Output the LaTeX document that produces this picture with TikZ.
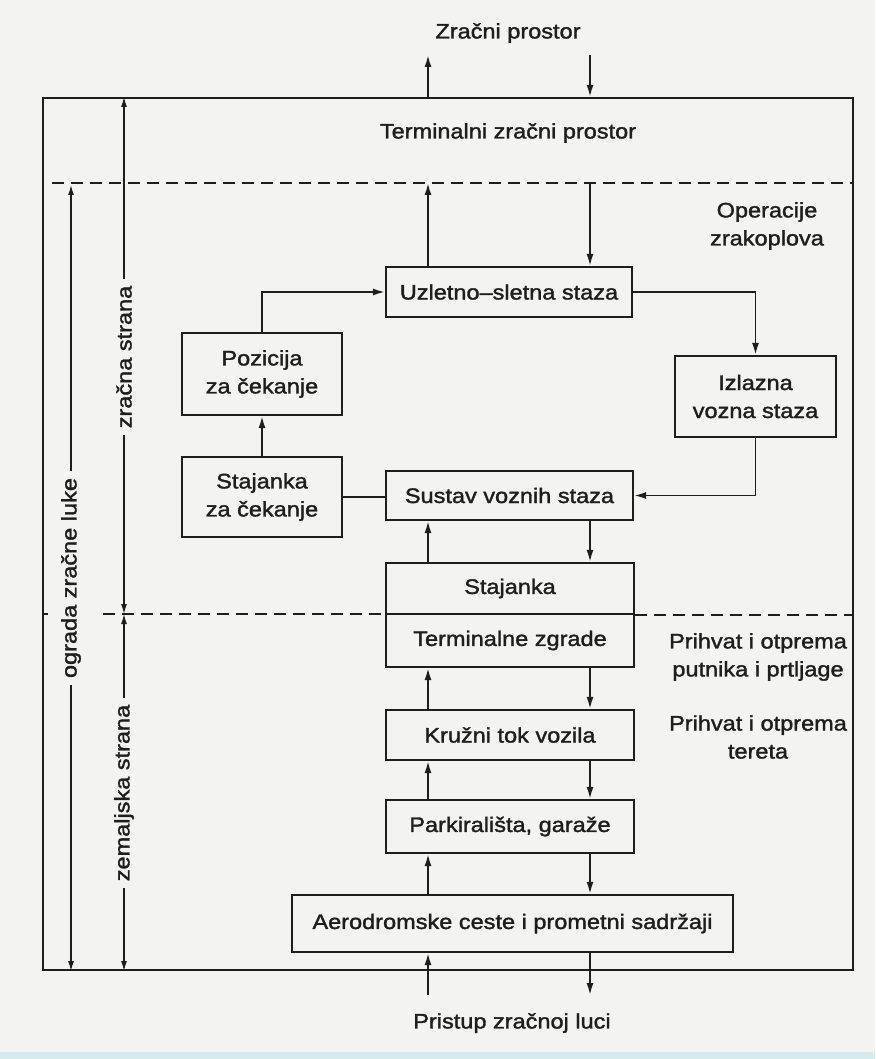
\documentclass[tikz,border=0pt]{standalone}
\usepackage{fontspec}
\setmainfont{Liberation Sans}[FakeStretch=1.12,FakeBold=1.6]
\usetikzlibrary{arrows.meta,calc}
\definecolor{ink}{HTML}{1E1E1E}
\definecolor{paper}{HTML}{F3F3F1}
\definecolor{band}{HTML}{D5EBED}
\begin{document}
\begin{tikzpicture}[x=1pt,y=-1pt,
  font=\fontsize{21pt}{28pt}\selectfont,
  box/.style={draw=ink, line width=2.2pt, inner sep=0pt, align=center, text=ink},
  lbl/.style={text=ink, align=center, inner sep=0pt},
  conn/.style={draw=ink, line width=1.8pt, -{Latex[length=12pt,width=7pt]}},
  plain/.style={draw=ink, line width=1.8pt},
  dim/.style={draw=ink, line width=1.3pt, {Latex[length=10pt,width=6pt]}-{Latex[length=10pt,width=6pt]}},
  dimlbl/.style={rotate=90, fill=paper, inner xsep=7pt, inner ysep=1pt, text=ink},
  dashln/.style={draw=ink, line width=2pt, dash pattern=on 12pt off 7pt}]
% background
\fill[paper] (0,0) rectangle (875,1059);
\fill[band] (0,1052) rectangle (875,1059);
\useasboundingbox (0,0) rectangle (875,1059);

% frame
\node[draw=ink, line width=2.2pt, minimum width=810pt, minimum height=872pt, inner sep=0pt] (frame) at (448,534) {};

% column coordinates
\coordinate (L) at (428,0);
\coordinate (R) at (590,0);
\coordinate (topL) at (428,55);
\coordinate (topR) at (590,55);
\coordinate (botL) at (428,995);
\coordinate (botR) at (590,995);
\coordinate (d1w) at (52,183);
\coordinate (d2w) at (103,614);

% boxes
\node[box, minimum width=246pt, minimum height=50pt] (runway) at (509,292) {Uzletno–sletna staza};
\node[box, minimum width=160pt, minimum height=82pt] (pozicija) at (262,374) {Pozicija\\za čekanje};
\node[box, minimum width=161pt, minimum height=81pt] (izlazna) at (755.5,396.5) {Izlazna\\vozna staza};
\node[box, minimum width=160pt, minimum height=80pt] (stajcek) at (262,497) {Stajanka\\za čekanje};
\node[box, minimum width=247pt, minimum height=49pt] (sustav) at (509.5,495.5) {Sustav voznih staza};
\node[box, minimum width=248pt, minimum height=51pt] (stajanka) at (510,588.5) {Stajanka};
\node[box, minimum width=248pt, minimum height=53pt] (terminal) at (510,640.5) {Terminalne zgrade};
\node[box, minimum width=248pt, minimum height=50pt] (kruzni) at (510,735) {Kružni tok vozila};
\node[box, minimum width=248pt, minimum height=53pt] (parking) at (510,826.5) {Parkirališta, garaže};
\node[box, minimum width=441pt, minimum height=57pt] (aero) at (512.5,923.5) {Aerodromske ceste i prometni sadržaji};

% labels
\node[lbl] (zp) at (508,33) {Zračni prostor};
\node[lbl] (tzp) at (508,133) {Terminalni zračni prostor};
\node[lbl] (ops) at (767,226) {Operacije\\zrakoplova};
\node[lbl] (ppp) at (758,657) {Prihvat i otprema\\putnika i prtljage};
\node[lbl] (pot) at (758,737) {Prihvat i otprema\\tereta};
\node[lbl] (pzl) at (512,1023) {Pristup zračnoj luci};

% dashed boundaries
\draw[dashln] (d1w) -- (d1w -| frame.east);
\draw[dashln] (d2w) -- (d2w -| stajanka.west);
\draw[dashln] (stajanka.south east) -- (stajanka.south east -| frame.east);
\draw[draw=ink, line width=1.3pt] (frame.west |- d2w) -- ++(6,0);

% top connections
\draw[conn] (frame.north -| L) -- (topL);
\draw[conn] (topR) -- (frame.north -| R);
\draw[conn] (runway.north -| L) -- (d1w -| L);
\draw[conn] (d1w -| R) -- (runway.north -| R);

% airside loop
\draw[conn] (pozicija.north) |- (runway.west);
\draw[conn] (runway.east) -| (izlazna.north);
\draw[conn] (izlazna.south) |- (sustav.east);
\draw[conn] (stajcek.north) -- (pozicija.south);
\draw[plain] (stajcek.east) -- (stajcek.east -| sustav.west);

% vertical chain
\draw[conn] (stajanka.north -| L) -- (sustav.south -| L);
\draw[conn] (sustav.south -| R) -- (stajanka.north -| R);
\draw[conn] (kruzni.north -| L) -- (terminal.south -| L);
\draw[conn] (terminal.south -| R) -- (kruzni.north -| R);
\draw[conn] (parking.north -| L) -- (kruzni.south -| L);
\draw[conn] (kruzni.south -| R) -- (parking.north -| R);
\draw[conn] (aero.north -| L) -- (parking.south -| L);
\draw[conn] (parking.south -| R) -- (aero.north -| R);
\draw[conn] (botL) -- (aero.south -| L);
\draw[conn] (aero.south -| R) -- (botR);

% left dimension lines
\coordinate (oT) at (71,185);
\coordinate (zs) at (124,614);
\draw[dim] (oT) -- (oT |- frame.south);
\draw[dim] (zs |- frame.north) -- (zs);
\draw[dim] (zs) -- (zs |- frame.south);
\node[dimlbl] (ograda) at (71,578) {ograda zračne luke};
\node[dimlbl] (zracna) at (124,357) {zračna strana};
\node[dimlbl] (zemalj) at (124,793) {zemaljska strana};
\end{tikzpicture}
\end{document}
